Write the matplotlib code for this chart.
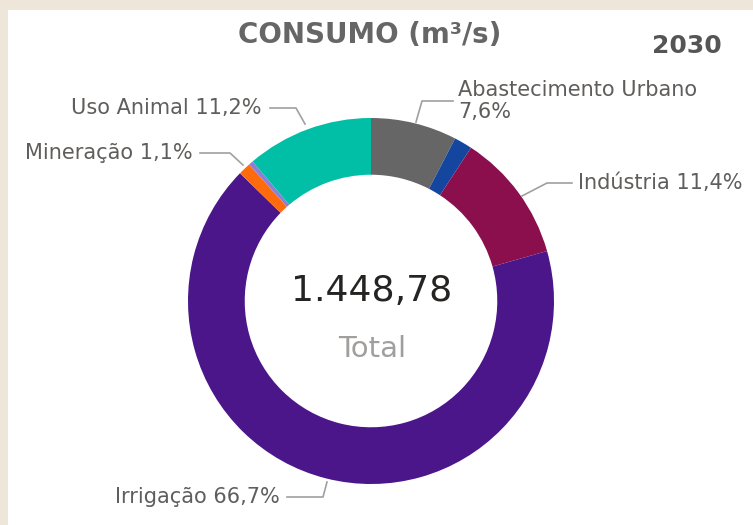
import matplotlib.pyplot as plt
from matplotlib.patches import Rectangle

# dados do gráfico (sentido horário a partir do topo)
setores = ['Abastecimento Urbano', 'Outros', 'Indústria', 'Irrigação',
           'Mineração', 'Outros 2', 'Uso Animal']
percentuais = [7.6, 1.6, 11.4, 66.7, 1.1, 0.4, 11.2]
cores = ['#666666', '#1446A0', '#8A0F4C', '#4A168A', '#FF6A0D', '#8E7FD6', '#00BFA6']
rotulos = ['Abastecimento Urbano\n7,6%', None, 'Indústria 11,4%', 'Irrigação 66,7%',
           'Mineração 1,1%', None, 'Uso Animal 11,2%']
total_texto = '1.448,78'
titulo = 'CONSUMO (m³/s)'
ano = '2030'

W, H = 753, 525
fig = plt.figure(figsize=(W / 100, H / 100), dpi=100)
fig.patch.set_facecolor('#EFE6DA')
ax = fig.add_axes([0, 0, 1, 1])

# painel branco
ax.add_patch(Rectangle((8, 0), W - 8, H - 10, facecolor='white', edgecolor='none', zorder=0))

cx, cy, r = 371, H - 301, 183
ax.pie(percentuais, colors=cores, startangle=90, counterclock=False,
       center=(cx, cy), radius=r, frame=True,
       wedgeprops=dict(width=r * 0.31, edgecolor='none'))
ax.set_xlim(0, W)
ax.set_ylim(0, H)
ax.set_aspect('equal')
ax.axis('off')

fonte = 'DejaVu Sans'
cinza = '#605E5C'

ax.text(cx + 1, cy + 10, total_texto, ha='center', va='center', fontsize=26,
        color='#252423', family=fonte)
ax.text(cx + 1, cy - 48, 'Total', ha='center', va='center', fontsize=21,
        color='#A19F9D', family=fonte)

ax.text(370, H - 35, titulo, ha='center', va='center', fontsize=20,
        fontweight='bold', color='#666666', family=fonte)
ax.text(722, H - 46, ano, ha='right', va='center', fontsize=18,
        fontweight='bold', color='#555555', family=fonte)

# rótulos e linhas de chamada
lbl = dict(fontsize=15, color=cinza, family=fonte, va='center')
lc = dict(color='#A0A0A0', lw=1.2)

ax.text(458, H - 101, rotulos[0], ha='left', linespacing=1.15, **lbl)
ax.plot([453, 422, 416], [H - 101, H - 101, H - 122], **lc)

ax.text(578, H - 183, rotulos[2], ha='left', **lbl)
ax.plot([572, 547, 522], [H - 183, H - 183, H - 196], **lc)

ax.text(280, H - 497, rotulos[3], ha='right', **lbl)
ax.plot([287, 323, 327], [H - 497, H - 497, H - 482], **lc)

ax.text(193, H - 153, rotulos[4], ha='right', **lbl)
ax.plot([200, 230, 243], [H - 153, H - 153, H - 165], **lc)

ax.text(262, H - 108, rotulos[6], ha='right', **lbl)
ax.plot([270, 296, 305], [H - 108, H - 108, H - 124], **lc)

fig.savefig('out.png', dpi=100, facecolor=fig.get_facecolor())
